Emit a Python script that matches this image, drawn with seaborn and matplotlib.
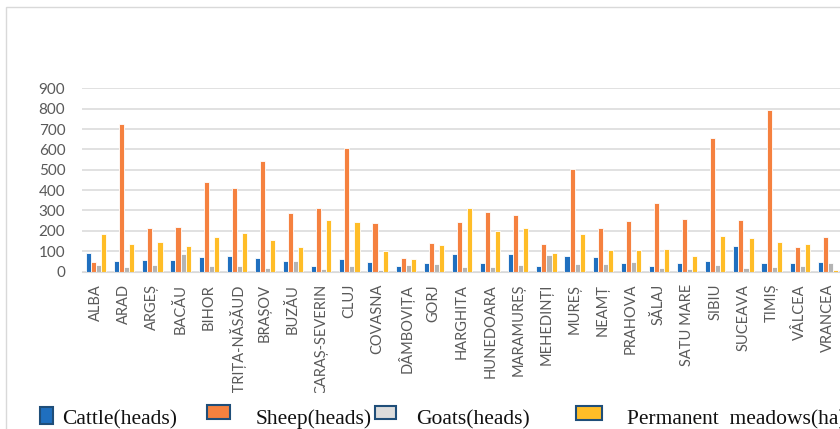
import pandas as pd
import seaborn as sns
import matplotlib.pyplot as plt
from matplotlib.patches import Rectangle
from matplotlib.transforms import Bbox, TransformedBbox

counties = ["ALBA", "ARAD", "ARGEȘ", "BACĂU", "BIHOR", "BISTRIȚA-NĂSĂUD", "BRAȘOV",
            "BUZĂU", "CARAȘ-SEVERIN", "CLUJ", "COVASNA", "DÂMBOVIȚA", "GORJ", "HARGHITA",
            "HUNEDOARA", "MARAMUREȘ", "MEHEDINȚI", "MUREȘ", "NEAMȚ", "PRAHOVA", "SĂLAJ",
            "SATU MARE", "SIBIU", "SUCEAVA", "TIMIȘ", "VÂLCEA", "VRANCEA"]

cattle = [92, 52, 57, 57, 72, 75, 65, 51, 28, 62, 46, 29, 44, 88, 43, 85, 28,
          75, 70, 43, 25, 43, 51, 126, 43, 43, 46]
sheep = [49, 723, 216, 221, 442, 412, 543, 288, 313, 606, 237, 65, 139, 244, 293, 277, 134,
         502, 213, 250, 336, 259, 656, 254, 794, 118, 169]
goats = [31, 23, 34, 87, 25, 29, 18, 52, 13, 26, 8, 31, 36, 20, 21, 31, 79,
         38, 39, 47, 18, 13, 31, 18, 21, 26, 43]
meadows = [185, 134, 144, 124, 170, 188, 157, 118, 254, 244, 100, 61, 128, 314, 200, 216, 92,
           182, 108, 106, 110, 74, 175, 164, 146, 137, 7]

series = ["Cattle(heads)", "Sheep(heads)", "Goats(heads)", "Permanent  meadows(ha)"]
colors = ["#1F6FBF", "#F5813F", "#B4B4B4", "#FFBD27"]
legend_fill = ["#1F6FBF", "#F5813F", "#DCDCDC", "#FFBD27"]

n = len(counties)
df = pd.DataFrame({
    "county": counties * 4,
    "value": cattle + sheep + goats + meadows,
    "series": sum([[s] * n for s in series], []),
})

fig = plt.figure(figsize=(8.4, 4.29), dpi=100)
W, H = 840, 429
ax = fig.add_axes([82 / W, 1 - 271.5 / H, 760 / W, (271.5 - 88.3) / H])

sns.barplot(data=df, x="county", y="value", hue="series", palette=colors, ax=ax,
            width=0.72, saturation=1, legend=False, edgecolor="white", linewidth=0.6)

ax.set_ylim(0, 900)
ax.set_xlim(-0.5, n - 0.5)
ax.set_yticks(range(0, 901, 100))
ax.yaxis.grid(True, color="#D9D9D9", linewidth=1.1)
ax.set_axisbelow(True)
for s in ["top", "right", "left"]:
    ax.spines[s].set_visible(False)
ax.spines["bottom"].set_color("#D9D9D9")
ax.set_xlabel("")
ax.set_ylabel("")
ax.tick_params(axis="both", length=0, colors="#595959")
ax.tick_params(axis="y", pad=12, labelsize=11)
ax.tick_params(axis="x", pad=9, labelsize=10.5)
for lab in ax.get_yticklabels():
    lab.set_fontfamily("Lato")

# long county names get cut off at the bottom, like in the original
clip = TransformedBbox(Bbox([[0, 1 - 393 / H], [1, 1]]), fig.transFigure)
for lab in ax.get_xticklabels():
    lab.set_rotation(90)
    lab.set_fontfamily("Lato")
    lab.set_clip_box(clip)
    lab.set_clip_on(True)

# outer chart frame
fig.add_artist(Rectangle((6 / W, -0.2), 2, 1.2 - 7 / H, transform=fig.transFigure,
                         fill=False, edgecolor="#D9D9D9", linewidth=1))

# legend row at the bottom
boxes = [(40, 407, 13, 17), (207, 405, 23, 14), (375, 406, 21, 13), (576, 406, 26, 14)]
text_x = [62, 256, 416, 627]
for (x, y, w, h), fc, tx, label in zip(boxes, legend_fill, text_x, series):
    fig.add_artist(Rectangle((x / W, 1 - (y + h) / H), w / W, h / H, transform=fig.transFigure,
                             facecolor=fc, edgecolor="#1F4E79", linewidth=1.5))
    fig.text(tx / W, 1 - 424 / H, label, fontsize=15.5, family="Liberation Serif",
             color="#111111", va="baseline")

fig.savefig("out.png", dpi=100)
